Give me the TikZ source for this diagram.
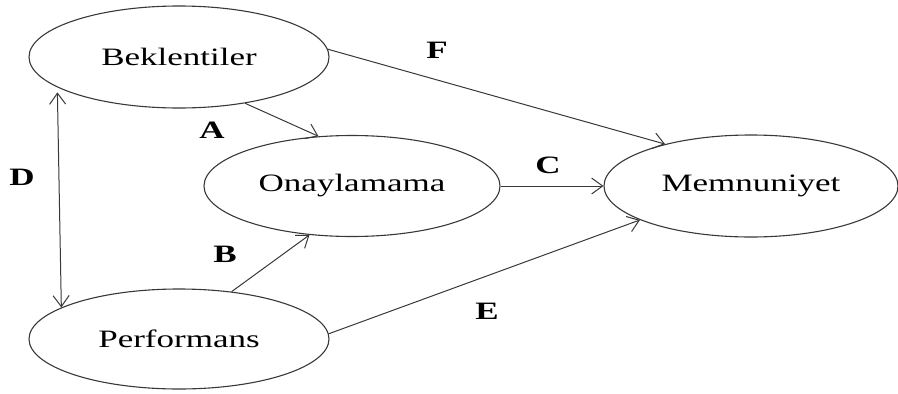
\documentclass[tikz,border=0pt]{standalone}
\usepackage{fontspec}
\setmainfont{Liberation Serif}
\usepackage{graphicx}
\usetikzlibrary{shapes.geometric,arrows.meta}
% the lettering of this model is set wide
\newcommand\widetext[1]{\scalebox{1.4}[1]{#1}}
\tikzset{
  construct/.style={ellipse, draw=black!78, line width=1.1pt, inner sep=0pt,
    font=\fontsize{25}{30}\selectfont, text=black},
  link/.style={draw=black!78, line width=1pt,
    -{Straight Barb[length=11pt,width=16pt]}},
  twoway/.style={link, {Straight Barb[length=11pt,width=16pt]}-{Straight Barb[length=11pt,width=16pt]}},
  tag/.style={font=\fontsize{25}{28}\selectfont\bfseries, inner sep=0pt}
}
\begin{document}
\begin{tikzpicture}[x=1pt,y=-1pt]
\useasboundingbox (0,0) rectangle (898,394);

% constructs
\node[construct, minimum width=300pt, minimum height=102pt] (bek) at (179,57) {\widetext{Beklentiler}};
\node[construct, minimum width=300pt, minimum height=100pt] (per) at (179,339) {\widetext{Performans}};
\node[construct, minimum width=296pt, minimum height=101pt] (ona) at (352,186) {\widetext{Onaylamama}};
\node[construct, minimum width=294pt, minimum height=102pt] (mem) at (751,186) {\widetext{Memnuniyet}};

% paths
\draw[link] (bek.-35.5) -- (ona.124.4);
\draw[link] (per.42.3) -- (ona.229);
\draw[link] (ona.east) -- (mem.west);
\draw[link] (bek.3.5) -- (mem.154);
\draw[link] (per.2.3) -- (mem.197);
\draw[twoway, shorten <=5pt] (bek.194.6) -- (per.165.7);

% path labels
\node[tag] (la) at (212,130) {\widetext{A}};
\node[tag] (lb) at (225,254) {\widetext{B}};
\node[tag] (lc) at (548,165) {\widetext{C}};
\node[tag] (ld) at (22,177) {\widetext{D}};
\node[tag] (le) at (487,311) {\widetext{E}};
\node[tag] (lf) at (437,50) {\widetext{F}};
\end{tikzpicture}
\end{document}
